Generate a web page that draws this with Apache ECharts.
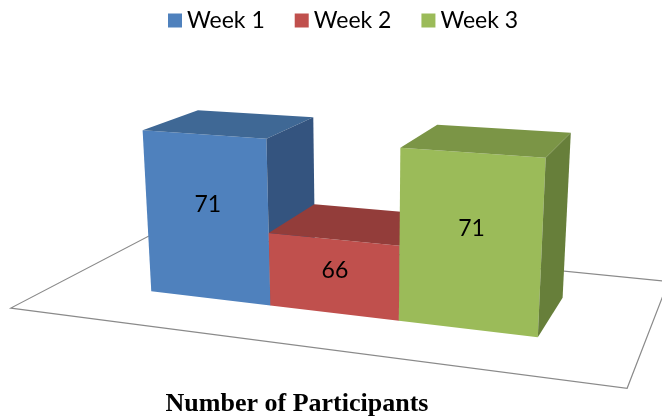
<!DOCTYPE html>
<html>
<head>
<meta charset="utf-8">
<script src="https://cdn.jsdelivr.net/npm/echarts@6/dist/echarts.min.js"></script>
<style>
  html, body { margin: 0; padding: 0; background: #fff; }
  #main { width: 662px; height: 417px; }
</style>
</head>
<body>
<div id="main"></div>
<script>
var categories = ['Number of Participants'];
var weeks = ['Week 1', 'Week 2', 'Week 3'];
var participants = [71, 66, 71];
var axisMin = 62, axisMax = 72;

// front / top / side shades for each week
var frontColors = ['#4F81BD', '#C0504D', '#9BBB59'];
var topColors = ['#3F6895', '#933D3A', '#7B9546'];
var sideColors = ['#34547F', '#7D3432', '#677F3A'];

var myChart = echarts.init(document.getElementById('main'));

// simple perspective camera, roughly Excel's 3-D rotation
var theta = 21 * Math.PI / 180;   // turn round the vertical
var phi = 17 * Math.PI / 180;     // look down
var roll = 0.008;
var focal = 1225, dist = 1250;
var cx = 333, cy = 263;
var target = [0, 54, 0];
var st = Math.sin(theta), ct = Math.cos(theta), sp = Math.sin(phi), cp = Math.cos(phi);
var fw = [-st * cp, -sp, ct * cp];
var rt = [ct, 0, st];
var up = [-sp * st, cp, sp * ct];

function project(X, Y, Z) {
    var dx = X - target[0], dy = Y - target[1], dz = Z - target[2];
    var xc = dx * rt[0] + dy * rt[1] + dz * rt[2];
    var yc = dx * up[0] + dy * up[1] + dz * up[2];
    var zc = dist + dx * fw[0] + dy * fw[1] + dz * fw[2];
    var sx = focal * xc / zc, sy = -focal * yc / zc;
    return [cx + sx * Math.cos(roll) + sy * Math.sin(roll),
            cy - sx * Math.sin(roll) + sy * Math.cos(roll)];
}

function poly(pts, fill) {
    return {
        type: 'polygon',
        shape: {points: pts.map(function (p) { return project(p[0], p[1], p[2]); })},
        style: {fill: fill, stroke: null}
    };
}

// world coords come from the grid: x relative to the band centre, y above the axis floor
function bandInfo(api) {
    var base = api.coord([0, axisMin]);
    var band = api.size([1, 0])[0];
    return {y0: base[1], band: band, w: band / 3};
}

function renderFloor(params, api) {
    var w = bandInfo(api).w;
    var x0 = -2.29 * w, x1 = 2.2 * w, z0 = -0.7 * w, z1 = 1.57 * w;
    var pts = [[x0, 0, z0], [x1, 0, z0], [x1, 0, z1], [x0, 0, z1]].map(function (p) {
        return project(p[0], p[1], p[2]);
    });
    return {
        type: 'polygon',
        shape: {points: pts},
        style: {fill: '#fff', stroke: '#8a8a8a', lineWidth: 1.2}
    };
}

function renderBar(params, api) {
    var i = params.seriesIndex - 1;
    var b = bandInfo(api);
    var top = api.coord([0, api.value(1)]);
    var h = b.y0 - top[1];
    var x0 = -b.band / 2 + i * b.w;
    var x1 = x0 + b.w;
    var d = b.w * 0.9;
    var lab = project((x0 + x1) / 2 + 2, h * 0.58, 0);
    return {
        type: 'group',
        children: [
            poly([[x0, 0, 0], [x1, 0, 0], [x1, h, 0], [x0, h, 0]], frontColors[i]),
            poly([[x0, h, 0], [x1, h, 0], [x1, h, d], [x0, h, d]], topColors[i]),
            poly([[x1, 0, 0], [x1, 0, d], [x1, h, d], [x1, h, 0]], sideColors[i]),
            {
                type: 'text',
                style: {
                    text: String(api.value(1)),
                    x: lab[0], y: lab[1],
                    align: 'center', verticalAlign: 'middle',
                    textAlign: 'center', textVerticalAlign: 'middle',
                    font: '23px Lato, sans-serif',
                    fill: '#000'
                }
            }
        ]
    };
}

var series = [{
    name: 'floor',
    type: 'custom',
    clip: false,
    silent: true,
    renderItem: renderFloor,
    data: [[0, axisMin]]
}];
weeks.forEach(function (name, k) {
    series.push({
        name: name,
        type: 'custom',
        clip: false,
        renderItem: renderBar,
        itemStyle: {color: frontColors[k]},
        encode: {x: 0, y: 1},
        data: [[0, participants[k]]]
    });
});

var option = {
    animation: false,
    legend: {
        data: weeks,
        left: 163,
        top: 4,
        icon: 'rect',
        itemWidth: 14,
        itemHeight: 14,
        itemGap: 30,
        textStyle: {fontFamily: 'Lato, sans-serif', fontSize: 23, color: '#000'}
    },
    grid: {left: 84, width: 426, top: 182, bottom: 37},
    xAxis: {
        type: 'category',
        data: categories,
        axisLine: {show: false},
        axisTick: {show: false},
        axisLabel: {
            margin: 11,
            fontFamily: 'Liberation Serif, Times New Roman, serif',
            fontWeight: 'bold',
            fontSize: 26,
            color: '#000'
        }
    },
    yAxis: {
        type: 'value',
        min: axisMin,
        max: axisMax,
        show: false
    },
    series: series
};

myChart.setOption(option);
</script>
</body>
</html>
